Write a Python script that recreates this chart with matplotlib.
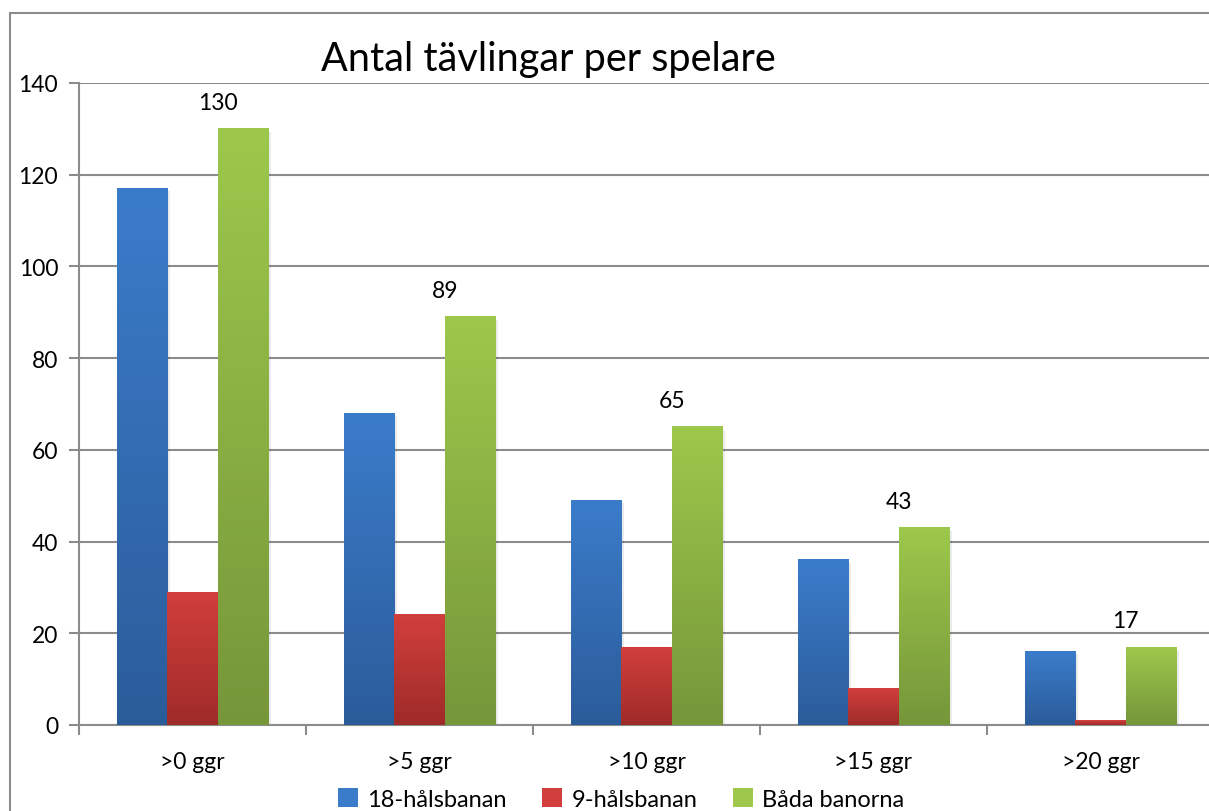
import matplotlib
matplotlib.use('Agg')
import matplotlib.pyplot as plt
import numpy as np
from matplotlib.colors import LinearSegmentedColormap
from matplotlib.patches import Rectangle, Patch

categories = ['>0 ggr', '>5 ggr', '>10 ggr', '>15 ggr', '>20 ggr']
series_names = ['18-hålsbanan', '9-hålsbanan', 'Båda banorna']
hal18 = [117, 68, 49, 36, 16]
hal9 = [29, 24, 17, 8, 1]
bada = [130, 89, 65, 43, 17]
yticks = [0, 20, 40, 60, 80, 100, 120, 140]

# gradient colours (top, bottom)
colors = [('#3b7cca', '#2b5c9a'), ('#d13f3c', '#9f2b29'), ('#9dc84b', '#76963a')]

plt.rcParams['font.family'] = ['Lato', 'DejaVu Sans']

W, H = 1209, 812
fig = plt.figure(figsize=(W / 100, H / 100), dpi=100)
ax = fig.add_axes([79 / W, 1 - 726 / H, (1214 - 79) / W, (726 - 84) / H])

# outer chart border
fig.patches.append(Rectangle((10 / W, -0.1), 1.2, 1 - 14 / H + 0.1,
                             transform=fig.transFigure, fill=False,
                             edgecolor='#8c8c8c', linewidth=1.5))

bw = 1 / 4.5
x = np.arange(len(categories))
grad = np.linspace(0, 1, 256).reshape(-1, 1)

for i, vals in enumerate([hal18, hal9, bada]):
    cmap = LinearSegmentedColormap.from_list('g%d' % i, [colors[i][1], colors[i][0]])
    for xi, v in zip(x, vals):
        x0 = xi + (i - 1.5) * bw
        # soft shadow
        ax.add_patch(Rectangle((x0 + 0.012, 0), bw, v - 0.6, facecolor='#000000',
                               alpha=0.08, edgecolor='none', zorder=2))
        ax.imshow(grad, extent=[x0, x0 + bw, 0, v], origin='lower',
                  aspect='auto', cmap=cmap, zorder=3)
    if i == 2:
        for xi, v in zip(x, vals):
            ax.text(xi + 0.5 * bw, v + 5.7, str(v), ha='center', va='center',
                    fontsize=16.5, color='black')

ax.set_xlim(-0.5, len(categories) - 0.5)
ax.set_ylim(0, 140)
ax.set_yticks(yticks)
ax.set_xticks(x)
ax.set_xticklabels(categories, fontsize=16.5)
ax.set_xticks(np.arange(len(categories) + 1) - 0.5, minor=True)
ax.tick_params(axis='x', which='major', length=0, pad=19)
ax.tick_params(axis='x', which='minor', length=7, width=1.5, color='#8c8c8c')
ax.tick_params(axis='y', length=7, width=1.5, color='#8c8c8c', labelsize=16.5, pad=8)
ax.yaxis.grid(True, color='#8c8c8c', linewidth=1.5)
ax.set_axisbelow(True)
for s in ['top', 'right']:
    ax.spines[s].set_visible(False)
for s in ['left', 'bottom']:
    ax.spines[s].set_color('#8c8c8c')
    ax.spines[s].set_linewidth(1.5)

fig.text(548 / W, 1 - 60 / H, 'Antal tävlingar per spelare', ha='center',
         va='center', fontsize=28.5)

handles = [Patch(facecolor=c[0], edgecolor='none') for c in colors]
fig.legend(handles, series_names, loc='center', bbox_to_anchor=(621 / W, 1 - 800 / H),
           ncol=3, frameon=False, fontsize=17, handlelength=0.85, handleheight=0.85,
           handletextpad=0.4, columnspacing=1.5)

fig.savefig('out.png', dpi=100)
